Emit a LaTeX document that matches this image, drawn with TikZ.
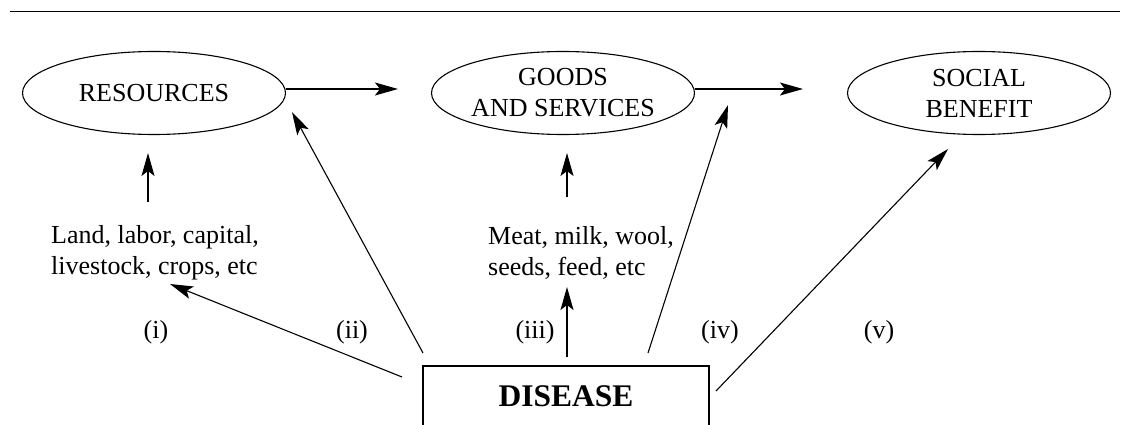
\documentclass[tikz,border=0pt]{standalone}
\usepackage{fontspec}
\setmainfont{Liberation Serif}
\usetikzlibrary{arrows.meta,shapes.geometric}
\begin{document}
\begin{tikzpicture}[x=1pt,y=-1pt,line width=1.1pt,
  every node/.style={font=\fontsize{26}{31}\selectfont},
  arr/.style={-{Stealth[length=23pt,width=13pt,inset=5pt]}},
  oval/.style={draw,ellipse,minimum width=263pt,minimum height=83pt,inner sep=0pt,align=center},
  lbl/.style={inner sep=0pt},
  dbox/.style={draw,minimum width=286pt,minimum height=60pt,inner sep=0pt,font=\fontsize{31.5}{36}\selectfont\bfseries}]
\useasboundingbox (0,0) rectangle (1125,425);
\clip (0,0) rectangle (1125,425);
\draw[line width=1pt] (10,12) -- (1120,12);
\node[oval] (res) at (154,93) {RESOURCES};
\node[oval] (goods) at (563,93) {GOODS\\AND SERVICES};
\node[oval] (soc) at (979,93) {SOCIAL\\BENEFIT};
\node[dbox] (dis) at (566,396) {DISEASE};
\node[align=left,inner sep=0pt] (land) at (155,253) {Land, labor, capital,\\livestock, crops, etc};
\node[align=left,inner sep=0pt] (meat) at (581,253) {Meat, milk, wool,\\seeds, feed, etc};
\node[lbl] (li) at (156,332) {(i)};
\node[lbl] (lii) at (352,332) {(ii)};
\node[lbl] (liii) at (535,332) {(iii)};
\node[lbl] (liv) at (720,332) {(iv)};
\node[lbl] (lv) at (879,332) {(v)};
% free ends
\coordinate (l1) at (148,202);
\coordinate (l2) at (148,153);
\coordinate (m1) at (567,197);
\coordinate (m2) at (567,153);
\coordinate (s1) at (402,377);
\coordinate (t1) at (170,284);
\coordinate (s2) at (423,353);
\coordinate (t2) at (292,112);
\coordinate (s3) at (567,357);
\coordinate (t3) at (567,287);
\coordinate (s4) at (648,353);
\coordinate (t4) at (728,105);
\coordinate (s5) at (716,391);
\coordinate (t5) at (948,149);
\draw[arr] ([yshift=4pt]res.east) -- ([yshift=4pt,xshift=-33pt]goods.west);
\draw[arr] ([yshift=4pt]goods.east) -- ([yshift=4pt,xshift=-44pt]soc.west);
\draw[arr] (l1) -- (l2);
\draw[arr] (m1) -- (m2);
\draw[arr] (s1) -- (t1);
\draw[arr] (s2) -- (t2);
\draw[arr] (s3) -- (t3);
\draw[arr] (s4) -- (t4);
\draw[arr] (s5) -- (t5);
\end{tikzpicture}
\end{document}
